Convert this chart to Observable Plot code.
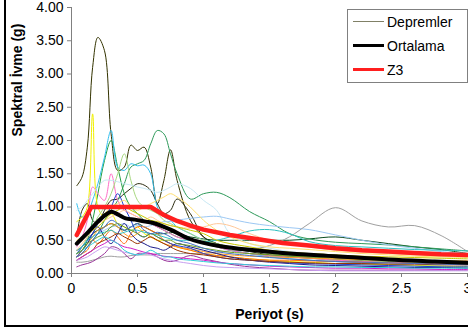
<!DOCTYPE html>
<html>
<head>
<meta charset="utf-8">
<script src="https://cdn.jsdelivr.net/npm/d3@7"></script>
<script src="https://cdn.jsdelivr.net/npm/@observablehq/plot@0.6"></script>
<style>
  html, body { margin: 0; padding: 0; background: #fff; overflow: hidden; }
  #wrap { position: relative; width: 468px; height: 331px; overflow: hidden; font-family: "Liberation Sans", Arial, sans-serif; }
  #frame { position: absolute; left: 4px; top: -10px; width: 600px; height: 333px; border: 2px solid #000; }
  #chart { position: absolute; left: 0; top: 0; }
  #legend { position: absolute; left: 347px; top: 9px; width: 119px; height: 72px; border: 1px solid #808080; background: #fff; font-size: 14px; color: #000; }
  .row { position: absolute; left: 0; height: 20px; width: 119px; }
  .sw { position: absolute; left: 5px; width: 31px; top: 50%; }
  .lab { position: absolute; left: 39px; top: 1px; line-height: 18px; }
</style>
</head>
<body>
<div id="wrap">
  <div id="frame"></div>
  <div id="chart"></div>
  <div id="legend">
    <div class="row" style="top:2px"><div class="sw" style="border-top:1.5px solid #808066;margin-top:-1px"></div><span class="lab">Depremler</span></div>
    <div class="row" style="top:26px"><div class="sw" style="border-top:3.5px solid #000;margin-top:-2px"></div><span class="lab">Ortalama</span></div>
    <div class="row" style="top:50px"><div class="sw" style="border-top:3.5px solid #ff1f1f;margin-top:-2px"></div><span class="lab">Z3</span></div>
  </div>
</div>
<script>
// Periods (s) at which the records were read
const T = [0.04,0.08,0.12,0.16,0.2,0.25,0.3,0.35,0.4,0.45,0.5,0.55,0.6,0.65,0.7,0.75,0.8,0.9,1.0,1.1,1.2,1.35,1.5,1.65,1.8,2.0,2.2,2.4,2.6,2.8,3.0];

// Individual earthquake spectra (g)
const r01 = [1.32,1.45,1.9,3.1,3.55,3.35,2.1,1.55,1.6,1.93,1.85,1.9,1.6,1.05,1.4,1.86,1.4,0.8,0.55,0.45,0.4,0.35,0.3,0.27,0.25,0.22,0.2,0.18,0.16,0.15,0.14];
const r02 = [0.55,0.95,1.05,0.8,0.75,0.95,1.1,1.12,1.2,1.28,1.35,1.33,1.25,1.05,0.9,0.95,1.12,0.9,0.55,0.45,0.38,0.33,0.28,0.26,0.24,0.22,0.2,0.18,0.17,0.16,0.15];
const r03 = [0.35,0.4,0.5,0.6,0.65,0.7,0.75,0.7,0.65,0.7,0.75,0.7,0.65,0.6,0.6,0.62,0.6,0.55,0.52,0.5,0.5,0.5,0.5,0.5,0.52,0.55,0.5,0.45,0.4,0.36,0.3];
const r04 = [0.25,0.3,0.4,0.5,0.6,0.8,0.95,1.1,1.35,1.6,1.65,1.7,1.95,2.15,2.1,1.8,1.5,1.12,1.2,1.22,1.14,0.93,0.78,0.6,0.52,0.47,0.45,0.43,0.4,0.37,0.34];
const r05 = [0.3,0.35,0.5,0.8,1.2,1.7,2.0,1.6,1.2,1.0,0.9,0.8,0.75,0.7,0.65,0.6,0.55,0.5,0.45,0.4,0.35,0.3,0.27,0.25,0.23,0.2,0.18,0.17,0.16,0.15,0.14];
const r06 = [1.05,0.85,0.9,1.1,1.35,1.75,2.15,1.6,1.55,1.65,1.62,1.63,1.5,1.0,0.85,0.8,0.7,0.6,0.5,0.42,0.35,0.3,0.25,0.22,0.2,0.18,0.16,0.14,0.12,0.11,0.1];
const r07 = [0.78,0.85,1.0,2.4,1.0,0.85,0.9,0.75,0.7,0.65,0.7,0.6,0.55,0.5,0.5,0.45,0.4,0.35,0.3,0.27,0.25,0.22,0.2,0.18,0.17,0.15,0.14,0.13,0.12,0.11,0.1];
const r08 = [0.4,0.55,0.8,1.3,1.2,1.1,1.5,1.1,0.95,0.9,0.85,0.8,0.75,0.7,0.65,0.6,0.55,0.5,0.45,0.4,0.35,0.3,0.27,0.25,0.23,0.2,0.18,0.17,0.16,0.15,0.14];
const r09 = [0.3,0.4,0.55,0.7,0.85,1.0,1.2,1.5,1.8,1.4,1.1,1.0,0.95,0.9,0.8,0.75,0.7,0.6,0.5,0.45,0.4,0.35,0.3,0.27,0.25,0.22,0.2,0.18,0.17,0.16,0.15];
const r10 = [0.95,1.0,1.1,1.2,1.3,1.4,1.4,1.38,1.35,1.33,1.3,1.28,1.25,1.22,1.25,1.3,1.35,1.28,1.1,0.95,0.6,0.45,0.38,0.33,0.3,0.27,0.24,0.22,0.2,0.18,0.17];
const r11 = [0.3,0.35,0.45,0.55,0.6,0.65,0.7,0.72,0.75,0.7,0.72,0.7,0.72,0.75,0.78,0.78,0.8,0.83,0.85,0.86,0.82,0.76,0.72,0.69,0.66,0.58,0.5,0.43,0.38,0.33,0.3];
const r12 = [0.17,0.17,0.18,0.2,0.22,0.25,0.26,0.25,0.25,0.27,0.28,0.28,0.28,0.3,0.3,0.3,0.3,0.3,0.3,0.32,0.34,0.36,0.42,0.55,0.75,0.99,0.79,0.7,0.72,0.57,0.33];
const r13 = [0.1,0.13,0.15,0.18,0.23,0.3,0.4,0.38,0.3,0.22,0.3,0.3,0.3,0.25,0.2,0.18,0.2,0.27,0.22,0.18,0.14,0.1,0.08,0.06,0.05,0.05,0.05,0.05,0.05,0.05,0.05];
const r14 = [0.25,0.3,0.35,0.5,0.45,0.55,0.65,0.55,0.45,0.6,0.7,0.7,0.65,0.6,0.5,0.45,0.4,0.35,0.3,0.27,0.25,0.22,0.2,0.2,0.19,0.18,0.17,0.16,0.15,0.14,0.14];
const r15 = [0.3,0.35,0.45,0.55,0.65,0.7,0.75,0.7,0.6,0.55,0.6,0.65,0.55,0.5,0.45,0.42,0.4,0.37,0.33,0.3,0.28,0.26,0.25,0.24,0.23,0.22,0.21,0.2,0.2,0.19,0.19];
const r16 = [0.25,0.35,0.45,0.6,0.7,0.55,0.45,0.6,0.75,0.6,0.5,0.45,0.4,0.38,0.35,0.4,0.45,0.4,0.35,0.3,0.25,0.2,0.17,0.15,0.13,0.12,0.11,0.1,0.09,0.09,0.08];
const r17 = [0.3,0.4,0.5,0.6,0.75,0.85,1.0,1.2,1.0,0.8,0.6,0.55,0.6,0.55,0.5,0.45,0.42,0.38,0.3,0.25,0.22,0.2,0.18,0.16,0.15,0.14,0.13,0.12,0.11,0.1,0.1];
const r18 = [0.35,0.4,0.5,0.55,0.6,0.62,0.65,0.6,0.62,0.65,0.65,0.62,0.6,0.58,0.55,0.52,0.5,0.5,0.48,0.5,0.55,0.64,0.66,0.6,0.48,0.42,0.4,0.38,0.36,0.35,0.34];
const r19 = [0.35,0.45,0.55,0.65,0.75,0.8,0.85,0.9,0.95,0.9,0.85,0.8,0.85,0.8,0.75,0.72,0.7,0.68,0.7,0.75,0.72,0.6,0.5,0.45,0.4,0.35,0.32,0.3,0.28,0.26,0.25];
const r20 = [0.5,0.55,0.6,0.7,0.8,0.9,1.0,1.05,1.1,1.0,0.95,1.0,1.05,1.1,1.15,1.2,1.15,1.0,0.8,0.65,0.55,0.45,0.4,0.38,0.36,0.33,0.3,0.28,0.26,0.25,0.24];
const r21 = [0.2,0.25,0.3,0.35,0.45,0.5,0.55,0.6,0.55,0.5,0.45,0.5,0.55,0.5,0.45,0.4,0.35,0.3,0.28,0.25,0.22,0.2,0.18,0.17,0.16,0.15,0.15,0.14,0.14,0.13,0.13];
const r22 = [0.2,0.25,0.3,0.35,0.4,0.45,0.5,0.45,0.4,0.38,0.35,0.32,0.3,0.28,0.26,0.25,0.24,0.22,0.2,0.17,0.15,0.13,0.11,0.1,0.09,0.08,0.08,0.07,0.07,0.06,0.06];
const r23 = [0.2,0.22,0.25,0.3,0.35,0.4,0.38,0.35,0.32,0.3,0.28,0.3,0.28,0.25,0.22,0.2,0.18,0.15,0.12,0.1,0.09,0.08,0.07,0.06,0.05,0.04,0.04,0.04,0.04,0.04,0.04];
const r24 = [0.3,0.35,0.4,0.45,0.5,0.55,0.5,0.45,0.35,0.3,0.28,0.3,0.35,0.3,0.25,0.25,0.22,0.2,0.18,0.16,0.15,0.13,0.12,0.11,0.1,0.1,0.09,0.09,0.08,0.08,0.08];
const r25 = [0.3,0.35,0.45,0.5,0.55,0.6,0.7,0.75,0.7,0.65,0.6,0.55,0.6,0.55,0.5,0.5,0.45,0.42,0.38,0.35,0.32,0.3,0.28,0.26,0.25,0.24,0.22,0.21,0.2,0.19,0.18];
const r26 = [0.25,0.3,0.4,0.5,0.6,0.7,0.8,0.75,0.65,0.7,0.75,0.65,0.6,0.62,0.6,0.55,0.5,0.45,0.38,0.33,0.3,0.27,0.24,0.22,0.2,0.18,0.17,0.16,0.15,0.14,0.13];
const r27 = [0.45,0.5,0.6,0.65,0.7,0.8,0.9,0.95,1.0,0.95,0.9,0.85,0.8,0.78,0.75,0.72,0.7,0.65,0.6,0.5,0.45,0.4,0.35,0.32,0.3,0.28,0.26,0.25,0.24,0.23,0.22];

const records = [r01,r02,r03,r04,r05,r06,r07,r08,r09,r10,r11,r12,r13,r14,r15,r16,r17,r18,r19,r20,r21,r22,r23,r24,r25,r26,r27];
const recordColors = ["#333300","#2b2b10","#0b4d1f","#2e9a5a","#20a040","#33c0f0","#f0f000","#ff70c8","#a8d880","#c8e8f4","#9cc8f4","#a0a0a0","#993399","#ff6a10","#ff9a20","#1a1a8a","#2040d0","#30c0c0","#ffc898","#ffe070","#993300","#d020c8","#c8a0f0","#30d0d8","#70a020","#4070c8","#c8c800"];

// Mean spectrum (Ortalama)
const meanT  = [0.04,0.13,0.2,0.25,0.3,0.35,0.41,0.48,0.56,0.62,0.75,0.88,1.0,1.13,1.33,1.6,2.0,2.4,2.75,3.0];
const meanSA = [0.45,0.63,0.78,0.87,0.93,0.89,0.83,0.81,0.78,0.76,0.66,0.53,0.46,0.41,0.36,0.31,0.26,0.21,0.18,0.16];

// Design spectrum Z3
const z3T  = [0.04,0.15,0.6,0.7,0.8,0.9,1.0,1.2,1.4,1.6,1.8,2.0,2.2,2.4,2.6,2.8,3.0];
const z3SA = [0.58,1.0,1.0,0.88,0.79,0.72,0.66,0.58,0.52,0.46,0.42,0.38,0.35,0.33,0.31,0.29,0.28];

const xTicks = [0,0.5,1,1.5,2,2.5,3];
const yTicks = [0,0.5,1,1.5,2,2.5,3,3.5,4];

const recRows = records.flatMap((vals, i) => T.map((t, j) => ({T: t, SA: vals[j], id: i, c: recordColors[i]})));
const meanRows = meanT.map((t, i) => ({T: t, SA: meanSA[i]}));
const z3Rows = z3T.map((t, i) => ({T: t, SA: z3SA[i]}));

const chart = Plot.plot({
  width: 468,
  height: 331,
  marginLeft: 71,
  marginRight: 1,
  marginTop: 7,
  marginBottom: 58,
  style: {fontFamily: "'Liberation Sans', Arial, sans-serif", fontSize: "14px", background: "transparent", color: "#000", overflow: "visible"},
  x: {domain: [0, 3]},
  y: {domain: [0, 4]},
  color: {type: "identity"},
  marks: [
    Plot.axisX({ticks: xTicks, tickSize: 4, tickPadding: 6, tickFormat: d => String(d), stroke: "#808080", fill: "#000", label: null}),
    Plot.axisY({ticks: yTicks, tickSize: 4, tickPadding: 4, tickFormat: d3.format(".2f"), stroke: "#808080", fill: "#000", label: null}),
    Plot.line(recRows, {x: "T", y: "SA", z: "id", stroke: "c", strokeWidth: 1, curve: "catmull-rom"}),
    Plot.line(meanRows, {x: "T", y: "SA", stroke: "#000", strokeWidth: 4, curve: "catmull-rom"}),
    Plot.line(z3Rows, {x: "T", y: "SA", stroke: "#ff1f1f", strokeWidth: 4.5}),
    Plot.ruleX([0], {stroke: "#808080"}),
    Plot.ruleY([0], {stroke: "#808080"}),
    Plot.text(["Periyot (s)"], {frameAnchor: "bottom", dy: 45, fontWeight: "bold", fontSize: 14, fill: "#000"}),
    Plot.text(["Spektral İvme (g)"], {frameAnchor: "left", dx: -54, dy: -4, rotate: -90, fontWeight: "bold", fontSize: 14, fill: "#000"})
  ]
});
document.getElementById("chart").appendChild(chart);
</script>
</body>
</html>
